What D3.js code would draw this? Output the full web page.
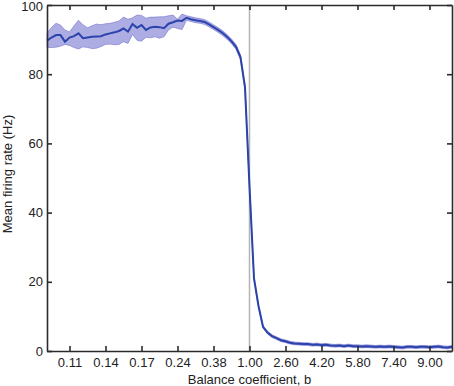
<!DOCTYPE html>
<head>
  <meta charset="utf-8">
  <script src="https://d3js.org/d3.v7.min.js"></script>
  <style>
body {
	margin: 0;
	background: #fff;
	}
.axis text {
	font-family: "Liberation Sans", Arial, sans-serif;
	font-size: 13px;
	fill: #222;
	}
.axis path, .axis line {
	stroke: #2b2b2b;
	stroke-width: 1.6px;
	}
.label {
	font-family: "Liberation Sans", Arial, sans-serif;
	font-size: 13px;
	fill: #222;
	}
  </style>
</head>

<body>
  <div id="graph"></div>
<script>
// balance coefficient b (left half: 1/10 ... 1/1.2, right half: 1.0 ... 10.0)
var balanceLow = [0.1, 0.10204, 0.10417, 0.10638, 0.1087, 0.11111, 0.11364, 0.11628, 0.11905, 0.12195,
  0.125, 0.12821, 0.13158, 0.13514, 0.13889, 0.14286, 0.14706, 0.15152, 0.15625, 0.16129,
  0.16667, 0.17241, 0.17857, 0.18519, 0.19231, 0.2, 0.20833, 0.21739, 0.22727, 0.2381,
  0.25, 0.26316, 0.27778, 0.29412, 0.3125, 0.33333, 0.35714, 0.38462, 0.41667, 0.45455,
  0.5, 0.55556, 0.625, 0.71429, 0.83333];
var balanceHigh = [1.0, 1.2, 1.4, 1.6, 1.8, 2.0, 2.2, 2.4, 2.6, 2.8, 3.0, 3.2, 3.4, 3.6, 3.8,
  4.0, 4.2, 4.4, 4.6, 4.8, 5.0, 5.2, 5.4, 5.6, 5.8, 6.0, 6.2, 6.4, 6.6, 6.8,
  7.0, 7.2, 7.4, 7.6, 7.8, 8.0, 8.2, 8.4, 8.6, 8.8, 9.0, 9.2, 9.4, 9.6, 9.8, 10.0];

// mean firing rate (Hz)
var rateMean = [89.7, 90.6, 91.3, 91.3, 89.4, 90.6, 91.0, 91.8, 90.4, 90.6,
  90.8, 90.9, 91.0, 91.5, 91.8, 92.1, 92.5, 93.2, 92.3, 94.5,
  93.4, 94.2, 92.8, 93.5, 93.7, 93.6, 93.3, 94.6, 95.0, 95.5,
  95.4, 96.3, 95.9, 95.6, 95.4, 95.1, 94.4, 93.6, 92.8, 91.9,
  90.8, 89.5, 87.9, 84.9, 76.2,
  47.5,
  21, 13, 7, 5.3, 4.3, 3.7, 3.1, 2.8, 2.4, 2.2, 2.1, 2.0, 2.0, 1.8, 1.9,
  1.7, 1.8, 1.6, 1.5, 1.6, 1.4, 1.6, 1.4, 1.4, 1.3, 1.4, 1.3, 1.2, 1.3, 1.2,
  1.3, 1.2, 1.1, 1.0, 1.2, 1.2, 1.1, 1.2, 1.2, 1.1, 1.2, 1.3, 1.1, 1.0, 1.2];

// upper / lower edge of shaded band
var rateUpper = [91.9, 93.5, 94.7, 94.2, 92.8, 92.2, 94.0, 95.6, 94.3, 93.4,
  94.0, 94.5, 94.3, 94.6, 94.7, 95.0, 95.4, 96.5, 95.9, 96.3,
  97.1, 97.0, 96.2, 96.5, 96.5, 96.6, 96.6, 96.9, 97.1, 95.9,
  97.4, 96.9, 96.6, 96.3, 96.1, 95.8, 95.1, 94.3, 93.5, 92.6,
  91.5, 90.2, 88.6, 85.6, 76.9,
  48.1,
  21.4, 13.4, 7.4, 5.7, 4.7, 4.1, 3.5, 3.2, 2.8, 2.6, 2.5, 2.4, 2.4, 2.2, 2.3,
  2.1, 2.2, 2.0, 1.9, 2.0, 1.8, 2.0, 1.8, 1.8, 1.7, 1.8, 1.7, 1.6, 1.7, 1.6,
  1.7, 1.6, 1.5, 1.4, 1.6, 1.6, 1.5, 1.6, 1.6, 1.5, 1.6, 1.7, 1.5, 1.4, 1.6];
var rateLower = [87.7, 87.7, 87.8, 88.1, 88.6, 88.3, 87.7, 87.3, 87.9, 87.7,
  87.4, 87.5, 88.0, 88.6, 88.7, 88.5, 88.6, 89.4, 88.9, 91.5,
  89.8, 89.5, 90.7, 90.5, 90.8, 90.4, 90.8, 92.8, 93.6, 93.2,
  92.9, 95.6, 95.2, 94.9, 94.7, 94.4, 93.7, 92.9, 92.1, 91.2,
  90.1, 88.8, 87.2, 84.2, 75.5,
  46.9,
  20.6, 12.6, 6.6, 4.9, 3.9, 3.3, 2.7, 2.4, 2.0, 1.8, 1.7, 1.6, 1.6, 1.4, 1.5,
  1.3, 1.4, 1.2, 1.1, 1.2, 1.0, 1.2, 1.0, 1.0, 0.9, 1.0, 0.9, 0.8, 0.9, 0.8,
  0.9, 0.8, 0.7, 0.6, 0.8, 0.8, 0.7, 0.8, 0.8, 0.7, 0.8, 0.9, 0.7, 0.6, 0.8];

// x tick positions (b) and their labels
var xTickValues = [1 / 9.0, 1 / 7.4, 1 / 5.8, 1 / 4.2, 1 / 2.6, 1.0, 2.6, 4.2, 5.8, 7.4, 9.0];
var xTickLabels = ["0.11", "0.14", "0.17", "0.24", "0.38", "1.00", "2.60", "4.20", "5.80", "7.40", "9.00"];
var yTickValues = [0, 20, 40, 60, 80, 100];

var margin = {top: 5, right: 2, bottom: 35, left: 47},
  width = 454 - margin.left - margin.right,
  height = 386 - margin.top - margin.bottom;

// b < 1 is shown as 1/b mirrored to the left of 1
function fold(b) { return b >= 1 ? b - 1 : 1 - 1 / b; }

var balance = balanceLow.concat(balanceHigh);
var data = balance.map(function(b, i) {
  return {b: b, mean: rateMean[i], lo: rateLower[i], hi: rateUpper[i]};
});

var x = d3.scaleLinear().domain([-9, 9]).range([0, width]);
var y = d3.scaleLinear().domain([0, 100]).range([height, 0]);

var svg = d3.select("#graph")
  .append("svg")
    .attr("width", 454)
    .attr("height", 386)
  .append("g")
    .attr("transform", "translate(" + margin.left + "," + margin.top + ")");

// reference line at b = 1
svg.append("line")
  .attr("x1", x(fold(1))).attr("x2", x(fold(1)))
  .attr("y1", 0).attr("y2", height)
  .style("stroke", "#b4b4b4")
  .style("stroke-width", 1.5);

// shaded band
svg.append("path")
  .datum(data)
  .attr("d", d3.area()
    .x(function(d) { return x(fold(d.b)); })
    .y0(function(d) { return y(d.lo); })
    .y1(function(d) { return y(d.hi); }))
  .style("fill", "#4a4ac4")
  .style("fill-opacity", 0.45)
  .style("stroke", "#5a5ac8")
  .style("stroke-opacity", 0.6)
  .style("stroke-width", 0.8);

// mean line
svg.append("path")
  .datum(data)
  .attr("d", d3.line()
    .x(function(d) { return x(fold(d.b)); })
    .y(function(d) { return y(d.mean); }))
  .style("fill", "none")
  .style("stroke", "#2b43aa")
  .style("stroke-width", 2);

var xt = xTickValues.map(fold);
var fmtX = function(d) { return xTickLabels[xt.indexOf(d)]; };

svg.append("g")
  .attr("class", "axis")
  .attr("transform", "translate(0," + height + ")")
  .call(d3.axisBottom(x).tickValues(xt).tickFormat(fmtX)
    .tickSizeInner(-5).tickSizeOuter(0).tickPadding(7));

svg.append("g")
  .attr("class", "axis")
  .call(d3.axisTop(x).tickValues(xt).tickFormat("")
    .tickSizeInner(-5).tickSizeOuter(0));

var yaxis = svg.append("g")
  .attr("class", "axis")
  .call(d3.axisLeft(y).tickValues(yTickValues)
    .tickSizeInner(-5).tickSizeOuter(0).tickPadding(4));

// keep the top label inside the page
yaxis.selectAll(".tick text")
  .filter(function(d) { return d === 100; })
  .attr("dy", "0.42em");

svg.append("g")
  .attr("class", "axis")
  .attr("transform", "translate(" + width + ",0)")
  .call(d3.axisRight(y).tickValues(yTickValues).tickFormat("")
    .tickSizeInner(-5).tickSizeOuter(0));

// axis labels
svg.append("text")
  .attr("class", "label")
  .attr("x", x(fold(1)))
  .attr("y", height + 33)
  .style("text-anchor", "middle")
  .text("Balance coefficient, b");

svg.append("text")
  .attr("class", "label")
  .attr("transform", "rotate(-90)")
  .attr("x", -169)
  .attr("y", -35)
  .style("text-anchor", "middle")
  .text("Mean firing rate (Hz)");
</script>
</body>
